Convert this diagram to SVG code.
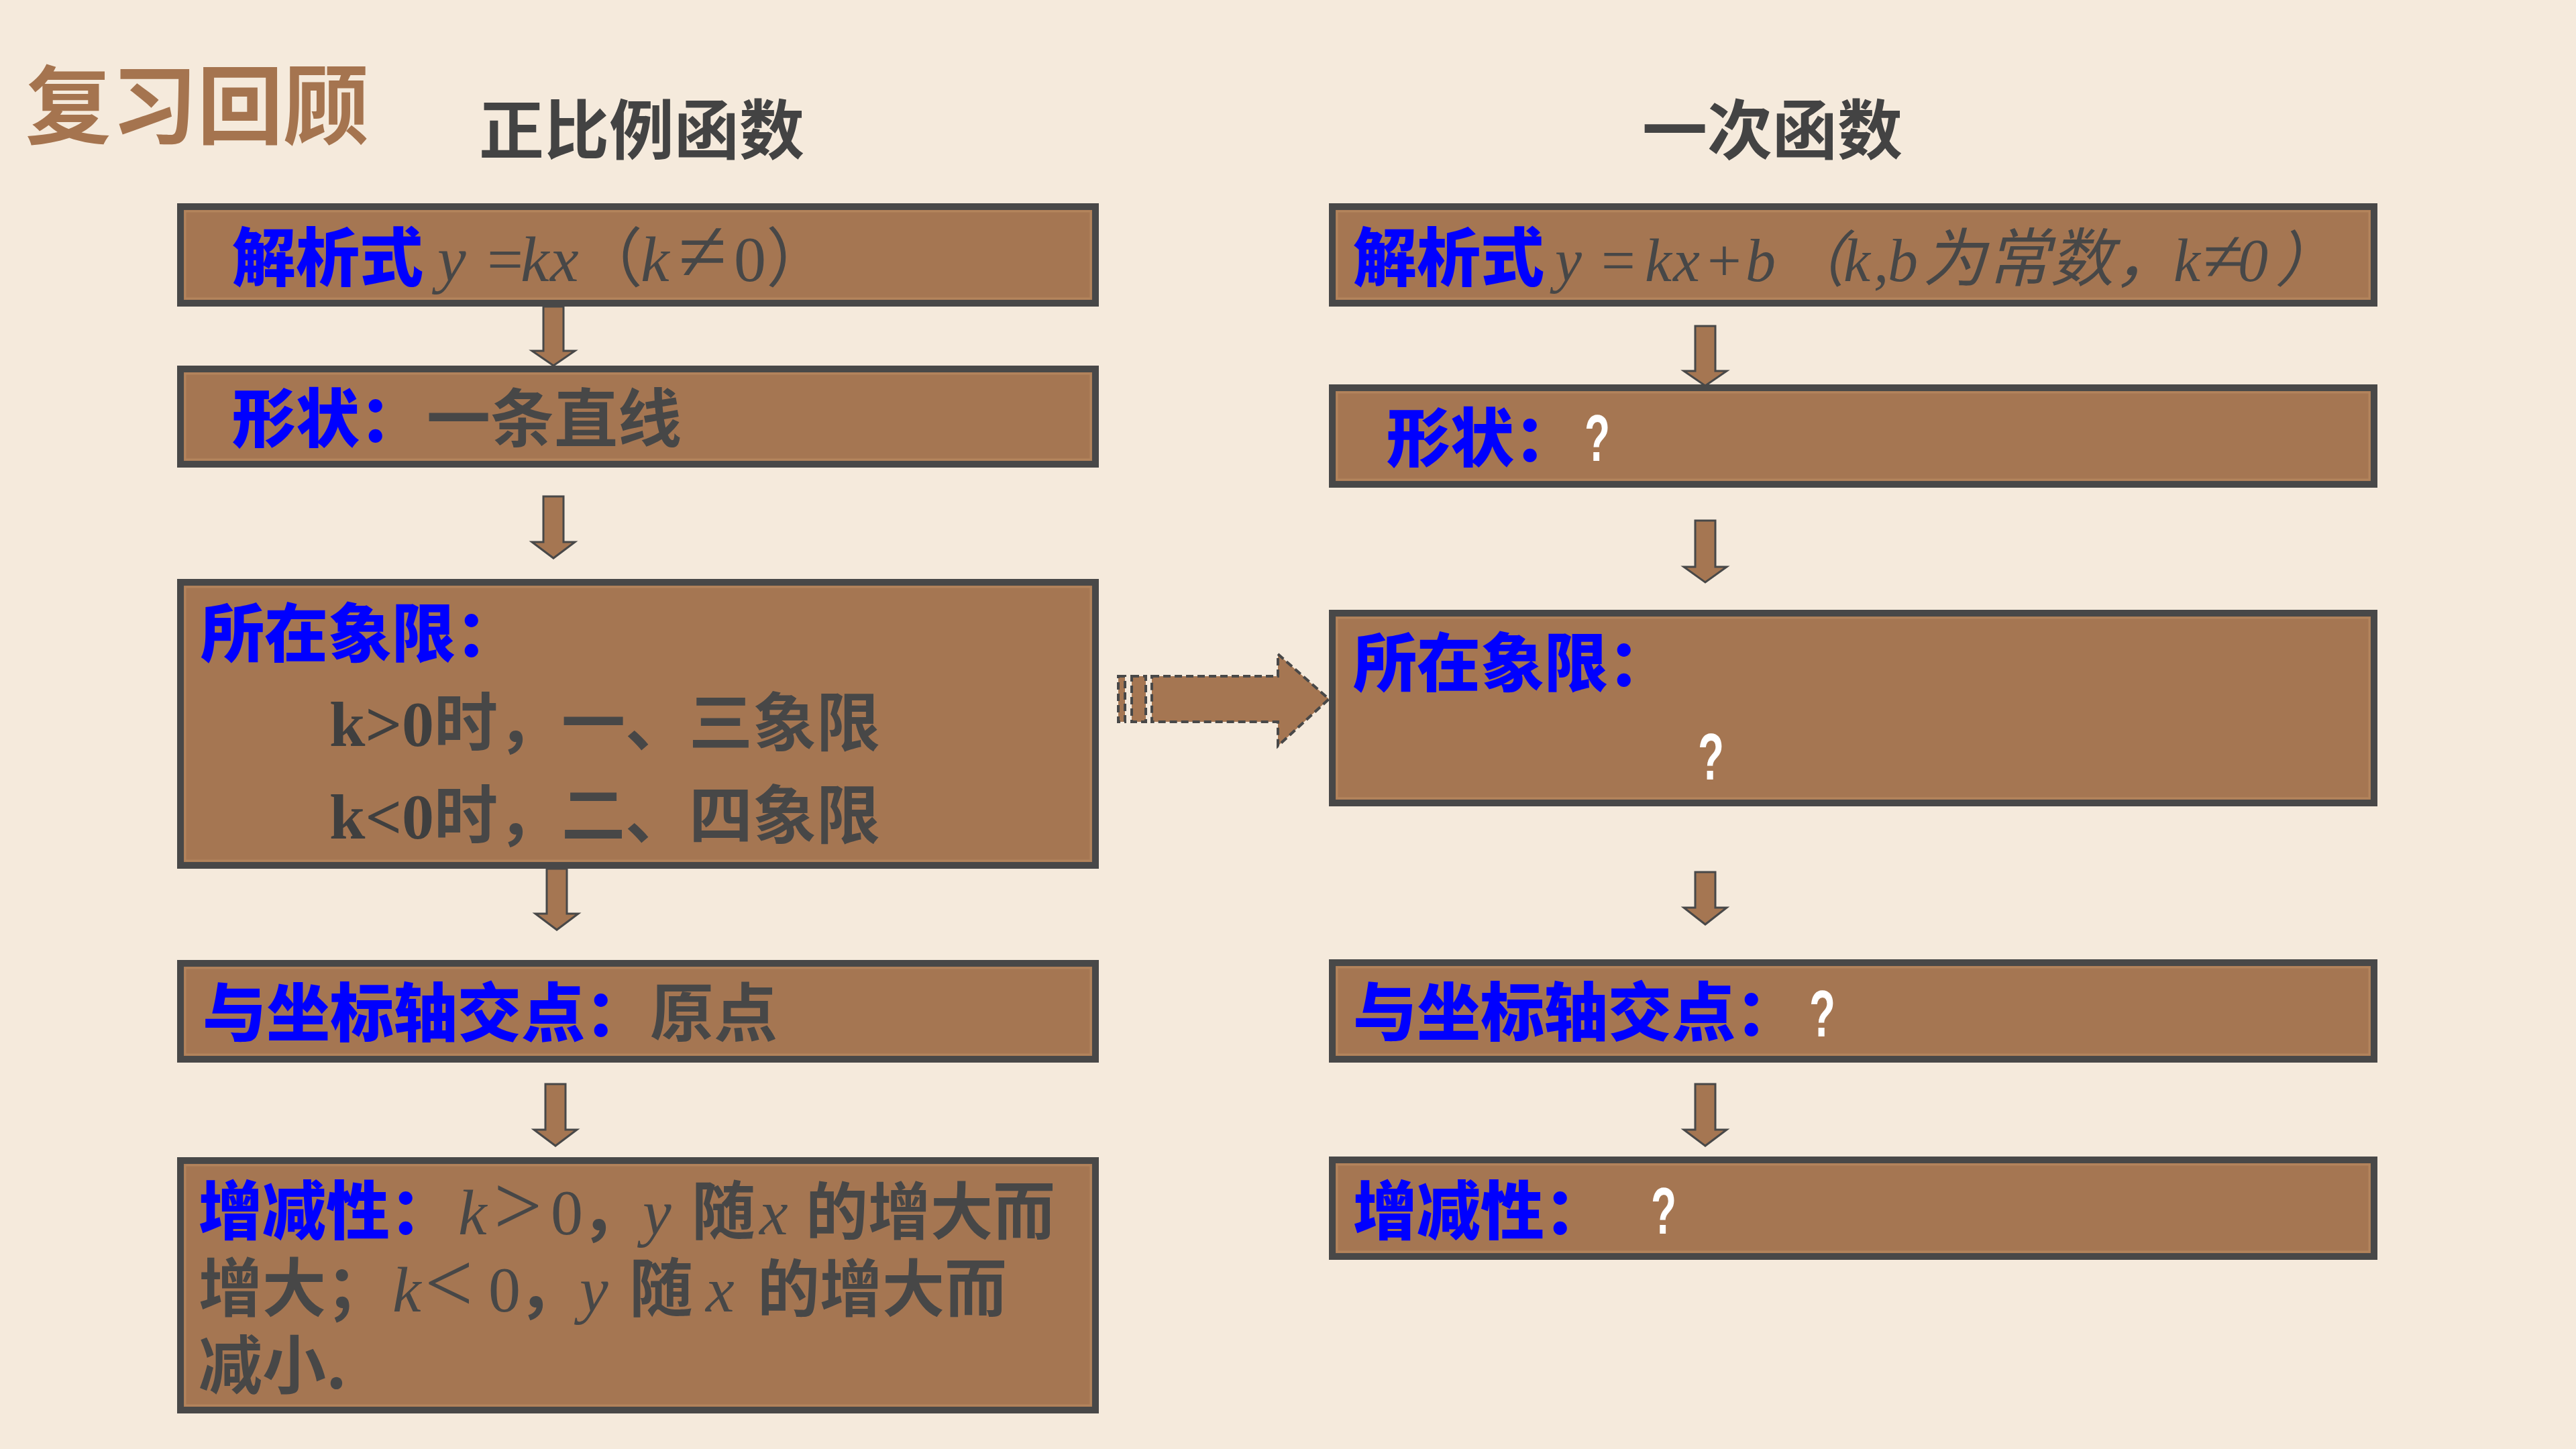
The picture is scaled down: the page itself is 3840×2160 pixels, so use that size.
<svg xmlns="http://www.w3.org/2000/svg" width="3840" height="2160" viewBox="0 0 3840 2160">
<style>
.bg{fill:#F5EADC}
.box{fill:#A57652;stroke:#484848;stroke-width:10}
.inner{fill:none;stroke:#B3845C;stroke-width:3}
.arr{fill:#A57652;stroke:#484848;stroke-width:3;stroke-linejoin:miter}
.dash{fill:#A57652;stroke:#484848;stroke-width:4;stroke-dasharray:11 6}
.cjk{font-family:'Noto Sans CJK SC',sans-serif}
.blue{fill:#0000FF;font-weight:900;font-size:95px}
.grey{fill:#474747;font-weight:700;font-size:95px}
.math{font-family:'Liberation Serif','Noto Sans CJK SC',serif;font-style:italic;font-weight:400;font-size:96px;fill:#474747}
.up{font-style:normal}
.big{font-size:128px}
.sm{font-size:90px}
.cj{font-family:'Noto Sans CJK SC',sans-serif}
.mb{font-family:'Liberation Serif',serif;font-weight:700;font-size:96px;fill:#3F3F3F}
.q{font-family:'Liberation Sans',sans-serif;font-weight:700;font-size:98px;fill:#FFFFFF}
.title{font-family:'Noto Sans CJK SC',sans-serif;font-weight:700}
</style>
<rect class="bg" x="0" y="0" width="3840" height="2160"/>

<text class="title" x="38" y="205" font-size="128" fill="#A5744F">复习回顾</text>
<text class="title" x="714" y="229" font-size="97" fill="#434343">正比例函数</text>
<text class="title" x="2448" y="229" font-size="97" fill="#434343">一次函数</text>

<g id="connectors">
  <path class="arr" d="M810 457 H840 V523 H857 L825 545 L793 523 H810 Z"/>
  <path class="arr" d="M810 740 H840 V808 H857 L825 832 L793 808 H810 Z"/>
  <path class="arr" d="M815 1295 H845 V1362 H862 L830 1386 L798 1362 H815 Z"/>
  <path class="arr" d="M813 1616 H843 V1684 H860 L828 1708 L796 1684 H813 Z"/>
  <path class="arr" d="M2527 486 H2557 V553 H2574 L2542 575 L2510 553 H2527 Z"/>
  <path class="arr" d="M2527 776 H2557 V845 H2574 L2542 868 L2510 845 H2527 Z"/>
  <path class="arr" d="M2527 1300 H2557 V1353 H2574 L2542 1378 L2510 1353 H2527 Z"/>
  <path class="arr" d="M2527 1616 H2557 V1684 H2574 L2542 1708 L2510 1684 H2527 Z"/>
  <g id="striped-arrow">
    <rect class="dash" x="1667" y="1008" width="10" height="68"/>
    <rect class="dash" x="1687" y="1008" width="21" height="68"/>
    <path class="dash" d="M1717 1008 H1905 V975 L1981 1042 L1905 1112 V1076 H1717 Z"/>
  </g>
</g>

<g id="p1">
  <rect class="box" x="269" y="308" width="1364" height="144"/>
  <rect class="inner" x="276" y="315" width="1350" height="130"/>
  <text y="419"><tspan class="cjk blue" x="346">解析式</tspan><tspan class="math" x="652">y</tspan><tspan class="math up" x="726">=</tspan><tspan class="math" x="776">k</tspan><tspan class="math" x="820">x</tspan><tspan class="math up cj" x="862">（</tspan><tspan class="math" x="955">k</tspan><tspan class="math up" x="1011" style="font-size:132px">≠</tspan><tspan class="math up" x="1094">0</tspan><tspan class="math up cj" x="1142">）</tspan></text>
</g>

<g id="p2">
  <rect class="box" x="269" y="550" width="1364" height="142"/>
  <rect class="inner" x="276" y="557" width="1350" height="128"/>
  <text y="659"><tspan class="cjk blue" x="346">形状：</tspan><tspan class="cjk grey" x="636">一条直线</tspan></text>
</g>

<g id="p3">
  <rect class="box" x="269" y="868" width="1364" height="422"/>
  <rect class="inner" x="276" y="875" width="1350" height="408"/>
  <text class="cjk blue" x="299" y="979">所在象限：</text>
  <text y="1112"><tspan class="mb" x="491">k&gt;0</tspan><tspan class="cjk grey" x="647">时，一、三象限</tspan></text>
  <text y="1250"><tspan class="mb" x="491">k&lt;0</tspan><tspan class="cjk grey" x="647">时，二、四象限</tspan></text>
</g>

<g id="p4">
  <rect class="box" x="269" y="1436" width="1364" height="143"/>
  <rect class="inner" x="276" y="1443" width="1350" height="129"/>
  <text y="1545"><tspan class="cjk blue" x="302">与坐标轴交点：</tspan><tspan class="cjk grey" x="969">原点</tspan></text>
</g>

<g id="p5">
  <rect class="box" x="269" y="1730" width="1364" height="372"/>
  <rect class="inner" x="276" y="1737" width="1350" height="358"/>
  <text y="1840"><tspan class="cjk blue" x="296">增减性：</tspan><tspan class="math" x="683">k</tspan><tspan class="math up big" x="736">&gt;</tspan><tspan class="math up" x="821">0</tspan><tspan class="cjk grey" x="866">，</tspan><tspan class="math" x="958">y</tspan><tspan class="cjk grey" x="1031">随</tspan><tspan class="math" x="1132">x</tspan><tspan class="cjk grey" x="1201" style="font-size:93px">的增大而</tspan></text>
  <text y="1955"><tspan class="cjk grey" x="296">增大；</tspan><tspan class="math" x="585">k</tspan><tspan class="math up big" x="633">&lt;</tspan><tspan class="math up" x="728">0</tspan><tspan class="cjk grey" x="772">，</tspan><tspan class="math" x="864">y</tspan><tspan class="cjk grey" x="938">随</tspan><tspan class="math" x="1052">x</tspan><tspan class="cjk grey" x="1129" style="font-size:93px">的增大而</tspan></text>
  <text class="cjk grey" x="296" y="2070">减小.</text>
</g>

<g id="q1">
  <rect class="box" x="1986" y="308" width="1553" height="144"/>
  <rect class="inner" x="1993" y="315" width="1539" height="130"/>
  <text y="419"><tspan class="cjk blue" x="2017">解析式</tspan><tspan class="math sm" x="2318">y</tspan><tspan class="math sm up" x="2387">=</tspan><tspan class="math sm" x="2452">k</tspan><tspan class="math sm" x="2494">x</tspan><tspan class="math sm up" x="2545">+</tspan><tspan class="math sm" x="2602">b</tspan><tspan class="math sm cj" x="2660">（</tspan><tspan class="math sm" x="2748">k</tspan><tspan class="math sm" x="2793">,</tspan><tspan class="math sm" x="2814">b</tspan><tspan class="math cj" x="2866" style="font-size:95px">为常数，</tspan><tspan class="math sm" x="3240">k</tspan><tspan class="math sm up" x="3284" style="font-size:110px">≠</tspan><tspan class="math sm" x="3336">0</tspan><tspan class="math sm cj" x="3392">）</tspan></text>
</g>

<g id="q2">
  <rect class="box" x="1986" y="578" width="1553" height="144"/>
  <rect class="inner" x="1993" y="585" width="1539" height="130"/>
  <text class="cjk blue" x="2067" y="688">形状：</text>
  <text class="q" x="2362" y="687" textLength="38" lengthAdjust="spacingAndGlyphs">?</text>
</g>

<g id="q3">
  <rect class="box" x="1986" y="914" width="1553" height="283"/>
  <rect class="inner" x="1993" y="921" width="1539" height="269"/>
  <text class="cjk blue" x="2017" y="1023">所在象限：</text>
  <text class="q" x="2531" y="1162" textLength="39" lengthAdjust="spacingAndGlyphs">?</text>
</g>

<g id="q4">
  <rect class="box" x="1986" y="1435" width="1553" height="144"/>
  <rect class="inner" x="1993" y="1442" width="1539" height="130"/>
  <text class="cjk blue" x="2017" y="1544">与坐标轴交点：</text>
  <text class="q" x="2697" y="1545" textLength="39" lengthAdjust="spacingAndGlyphs">?</text>
</g>

<g id="q5">
  <rect class="box" x="1986" y="1729" width="1553" height="144"/>
  <rect class="inner" x="1993" y="1736" width="1539" height="130"/>
  <text class="cjk blue" x="2017" y="1840">增减性：</text>
  <text class="q" x="2461" y="1839" textLength="38" lengthAdjust="spacingAndGlyphs">?</text>
</g>
</svg>
